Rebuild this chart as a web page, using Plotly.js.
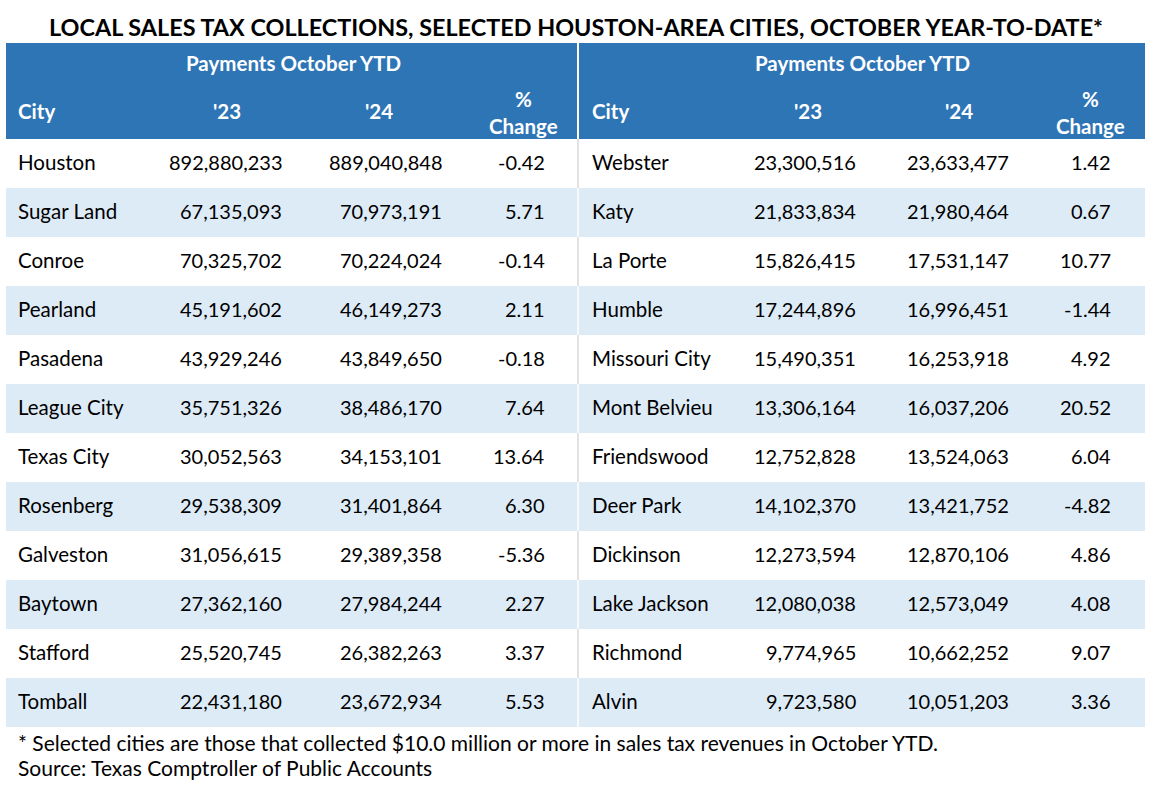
<!DOCTYPE html>
<html><head><meta charset="utf-8">
<script src="https://cdn.plot.ly/plotly-3.0.1.min.js"></script>
<style>html,body{margin:0;padding:0;background:#fff}#chart{width:1151px;height:787px}</style>
</head><body><div id="chart"></div>
<script>
const chartTitle = "LOCAL SALES TAX COLLECTIONS, SELECTED HOUSTON-AREA CITIES, OCTOBER YEAR-TO-DATE*";
const groupHeader = "Payments October YTD";
const colHeaders = ["City", "'23", "'24", "%<br>Change"];
const leftCities = ["Houston","Sugar Land","Conroe","Pearland","Pasadena","League City","Texas City","Rosenberg","Galveston","Baytown","Stafford","Tomball"];
const left23 = [892880233,67135093,70325702,45191602,43929246,35751326,30052563,29538309,31056615,27362160,25520745,22431180];
const left24 = [889040848,70973191,70224024,46149273,43849650,38486170,34153101,31401864,29389358,27984244,26382263,23672934];
const leftPct = [-0.42,5.71,-0.14,2.11,-0.18,7.64,13.64,6.30,-5.36,2.27,3.37,5.53];
const rightCities = ["Webster","Katy","La Porte","Humble","Missouri City","Mont Belvieu","Friendswood","Deer Park","Dickinson","Lake Jackson","Richmond","Alvin"];
const right23 = [23300516,21833834,15826415,17244896,15490351,13306164,12752828,14102370,12273594,12080038,9774965,9723580];
const right24 = [23633477,21980464,17531147,16996451,16253918,16037206,13524063,13421752,12870106,12573049,10662252,10051203];
const rightPct = [1.42,0.67,10.77,-1.44,4.92,20.52,6.04,-4.82,4.86,4.08,9.07,3.36];
const footnotes = ["* Selected cities are those that collected $10.0 million or more in sales tax revenues in October YTD.",
                   "Source: Texas Comptroller of Public Accounts"];

const FONT = "Lato, 'Open Sans', sans-serif";
const FS = 20;
const BLUE = "#2E75B6", LIGHT = "#DDEBF7";
const tableL = 6, tableR = 1145, mid = 578, headTop = 43, headBot = 139, rowH = 49;

const shapes = [];
const ann = [];
function txt(x, y, t, anchor, opts) {
  opts = opts || {};
  ann.push({x: x, y: y, xref: 'x', yref: 'y', text: t, showarrow: false,
    xanchor: anchor, yanchor: 'middle',
    font: {family: FONT, size: opts.size || FS, color: opts.color || '#000', weight: opts.bold ? 'bold' : 'normal'}});
}
// title
txt(575.5, 27, "<b>" + chartTitle + "</b>", 'center', {size: 23.4});
// header band
shapes.push({type: 'rect', xref: 'x', yref: 'y', x0: tableL, x1: tableR, y0: headTop, y1: headBot, fillcolor: BLUE, line: {width: 0}, layer: 'below'});
// rows
const n = leftCities.length;
for (let i = 0; i < n; i++) {
  const y0 = headBot + rowH * i;
  if (i % 2 === 1) shapes.push({type: 'rect', xref: 'x', yref: 'y', x0: tableL, x1: tableR, y0: y0, y1: y0 + rowH, fillcolor: LIGHT, line: {width: 0}, layer: 'below'});
  shapes.push({type: 'line', xref: 'x', yref: 'y', x0: mid, x1: mid, y0: y0, y1: y0 + rowH, line: {color: i % 2 === 1 ? '#FFFFFF' : '#D9D9D9', width: 1.5}});
}
shapes.push({type: 'line', xref: 'x', yref: 'y', x0: mid, x1: mid, y0: headTop, y1: headBot, line: {color: '#FFFFFF', width: 2}});

function side(cities, v23, v24, pct, xs) {
  const w = {color: '#fff', bold: true, size: 20.5};
  txt(xs.group, 63, groupHeader, 'center', w);
  txt(xs.city, 111, colHeaders[0], 'left', w);
  txt(xs.h23, 111, colHeaders[1], 'center', w);
  txt(xs.h24, 111, colHeaders[2], 'center', w);
  txt(xs.hp, 112, colHeaders[3], 'center', w);
  for (let i = 0; i < cities.length; i++) {
    const yc = headBot + rowH * i + rowH / 2 - 1.5;
    txt(xs.city, yc, cities[i], 'left', {size: 20.5});
    txt(xs.c23, yc, v23[i].toLocaleString('en-US'), 'right');
    txt(xs.c24, yc, v24[i].toLocaleString('en-US'), 'right');
    txt(xs.cp, yc, pct[i].toFixed(2), 'right');
  }
}
side(leftCities, left23, left24, leftPct, {group: 293, city: 16, h23: 227, h24: 379, hp: 523, c23: 284, c24: 444, cp: 547});
side(rightCities, right23, right24, rightPct, {group: 862, city: 590, h23: 808, h24: 959, hp: 1090, c23: 858, c24: 1011, cp: 1113});

txt(16, 742, footnotes[0], 'left', {size: 21});
txt(16, 767, footnotes[1], 'left', {size: 21});

const layout = {
  width: 1151, height: 787,
  margin: {l: 0, r: 0, t: 0, b: 0},
  paper_bgcolor: '#fff', plot_bgcolor: '#fff',
  xaxis: {range: [0, 1151], visible: false, fixedrange: true},
  yaxis: {range: [787, 0], visible: false, fixedrange: true},
  shapes: shapes, annotations: ann, showlegend: false
};
Plotly.newPlot('chart', [{type: 'scatter', x: [], y: [], mode: 'markers', hoverinfo: 'skip'}], layout, {staticPlot: true, displayModeBar: false});
</script></body></html>
